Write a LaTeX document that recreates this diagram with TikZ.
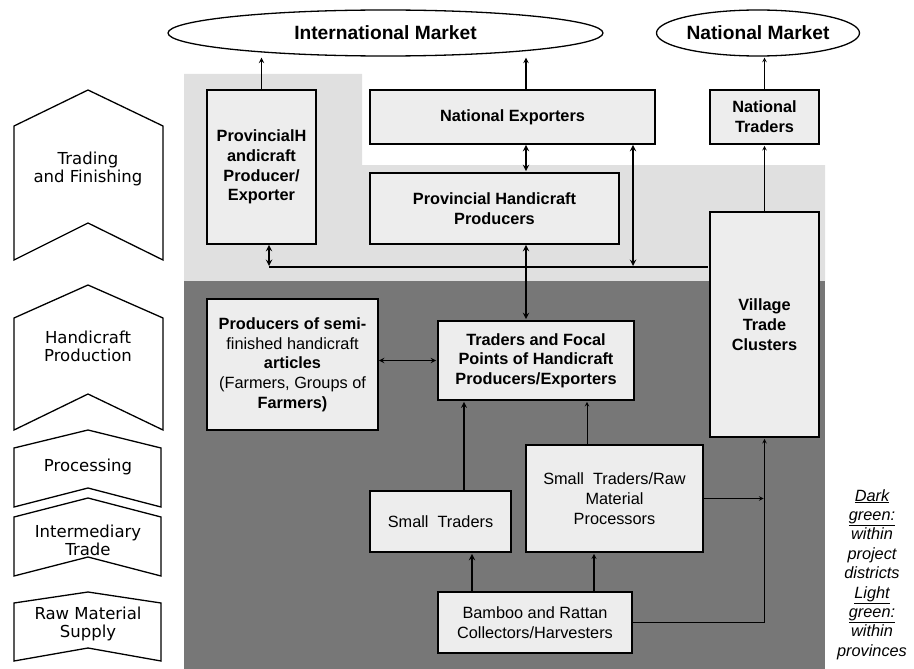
\documentclass[tikz,border=0pt]{standalone}
\usepackage{fontspec}
\setmainfont{Liberation Sans}
\newfontfamily\stagefont{DejaVu Sans}
\usepackage{tikz}
\usetikzlibrary{arrows,positioning,shapes}
\definecolor{lightzone}{HTML}{E0E0E0}
\definecolor{darkzone}{HTML}{777777}
\definecolor{boxfill}{HTML}{EDEDED}

\begin{document}
\begin{tikzpicture}[x=1pt, y=-1pt, >=stealth, shorten >=1pt,
    every node/.style={align=center, inner sep=0pt},
    actor/.style={draw, line width=1.8pt, fill=boxfill,
        font=\bfseries\fontsize{16.3}{19.7}\selectfont},
    plain/.style={actor, font=\fontsize{16.3}{19.7}\selectfont},
    market/.style={ellipse, draw, line width=1.3pt, fill=white,
        font=\bfseries\fontsize{19.2}{22}\selectfont},
    stage/.style={draw, line width=1.3pt, fill=white},
    stagetext/.style={font=\stagefont\fontsize{16.5}{18}\selectfont},
    flow/.style={->, line width=1pt},
    link/.style={<->, line width=1.8pt},
    note/.style={font=\itshape\fontsize{16.3}{19.4}\selectfont}
    ]
\useasboundingbox (0,0) rectangle (914,669);
% zones
\fill[lightzone] (184,74) -- (362,74) -- (362,165) -- (825,165) -- (825,281) -- (184,281) -- cycle;
\fill[darkzone] (184,281) rectangle (825,669);

% stages on the left
\foreach \n/\yt/\yc/\yb/\yn/\xr/\ym/\lbl in {
    1/90/126/260/223/163/169/{Trading\\and Finishing},
    2/285/318/430/394/163/346/{Handicraft\\Production},
    3/430/448/507/488/161/467/{Processing},
    4/498/517/576/557/161/540/{Intermediary\\Trade},
    5/592/603/661/648/161/624/{Raw Material\\Supply}}
{
    \draw[stage] (14,\yc) -- (88,\yt) -- (\xr,\yc) -- (\xr,\yb) -- (88,\yn) -- (14,\yb) -- cycle;
    \node[stagetext] (stage\n) at (88,\ym) {\lbl};
}

% markets
\node[market, minimum width=435pt, minimum height=46pt] (intl) at (385.5,33) {International Market};
\node[market, minimum width=203pt, minimum height=46pt] (natmkt) at (758,33) {National Market};

% actors
\node[actor, minimum width=109pt, minimum height=154pt] (provexp) at (261.5,167) {ProvincialH\\andicraft\\Producer/\\Exporter};
\node[actor, minimum width=285pt, minimum height=54pt] (natexp) at (512.5,117) {National Exporters};
\node[actor, minimum width=249pt, minimum height=71pt] (provprod) at (494.5,208.5) {Provincial Handicraft\\Producers};
\node[actor, minimum width=109pt, minimum height=54pt] (nattrad) at (764.5,117) {National\\Traders};
\node[actor, minimum width=109pt, minimum height=225pt] (village) at (764.5,324.5) {Village\\Trade\\Clusters};
\node[plain, minimum width=171pt, minimum height=131pt] (semi) at (292.5,364.5)
    {\textbf{Producers of semi-}\\finished handicraft\\\textbf{articles}\\(Farmers, Groups of\\\textbf{Farmers)}};
\node[actor, minimum width=196pt, minimum height=79pt] (focal) at (536,360.5) {Traders and Focal\\Points of Handicraft\\Producers/Exporters};
\node[plain, minimum width=141pt, minimum height=61pt] (small) at (440.5,521.5) {Small~~Traders};
\node[plain, minimum width=177pt, minimum height=107pt] (rawproc) at (614.5,498.5) {Small~~Traders/Raw\\Material\\Processors};
\node[plain, minimum width=194pt, minimum height=61pt] (bamboo) at (535,622.5) {Bamboo and Rattan\\Collectors/Harvesters};

% legend
\node[note] (legend) at (872,574.5) {\underline{Dark}\\\underline{green:}\\within\\project\\districts\\\underline{Light}\\\underline{green:}\\within\\provinces};

% columns and rows of the connectors
\coordinate (colexp) at (269,0);
\coordinate (colnat) at (526,0);
\coordinate (colside) at (633,0);
\coordinate (colsmall) at (464,0);
\coordinate (colraw) at (587,0);
\coordinate (colbamA) at (472,0);
\coordinate (colbamB) at (594,0);
\coordinate (rowprov) at (0,267);

% connectors
\draw[flow, line width=1.4pt] (provexp.north) -- (provexp.north |- intl.south);
\draw[flow, line width=1.4pt] (colnat |- natexp.north) -- (colnat |- intl.south);
\draw[link] (colnat |- natexp.south) -- (colnat |- provprod.north);
\draw[link] (colnat |- provprod.south) -- (colnat |- focal.north);
\draw[link] (colexp |- provexp.south) -- (colexp |- rowprov);
\draw[link] (colside |- natexp.south) -- (colside |- rowprov);
\draw[line width=1.8pt] (colexp |- rowprov) -- (village.west |- rowprov);
\draw[flow] (village.north) -- (nattrad.south);
\draw[flow] (nattrad.north) -- (nattrad.north |- natmkt.south);
\draw[<->, line width=1.4pt] (semi.east |- focal.west) -- (focal.west);
\draw[flow, line width=1.6pt] (colsmall |- small.north) -- (colsmall |- focal.south);
\draw[flow] (colraw |- rawproc.north) -- (colraw |- focal.south);
\draw[flow, line width=1.8pt] (colbamA |- bamboo.north) -- (colbamA |- small.south);
\draw[flow, line width=1.2pt] (colbamB |- bamboo.north) -- (colbamB |- rawproc.south);
\draw[flow] (rawproc.east) -- (village.south |- rawproc.east);
\draw[line width=1.8pt] (bamboo.east) -- (village.south |- bamboo.east);
\draw[flow] (village.south |- bamboo.east) -- (village.south);
\end{tikzpicture}
\end{document}
